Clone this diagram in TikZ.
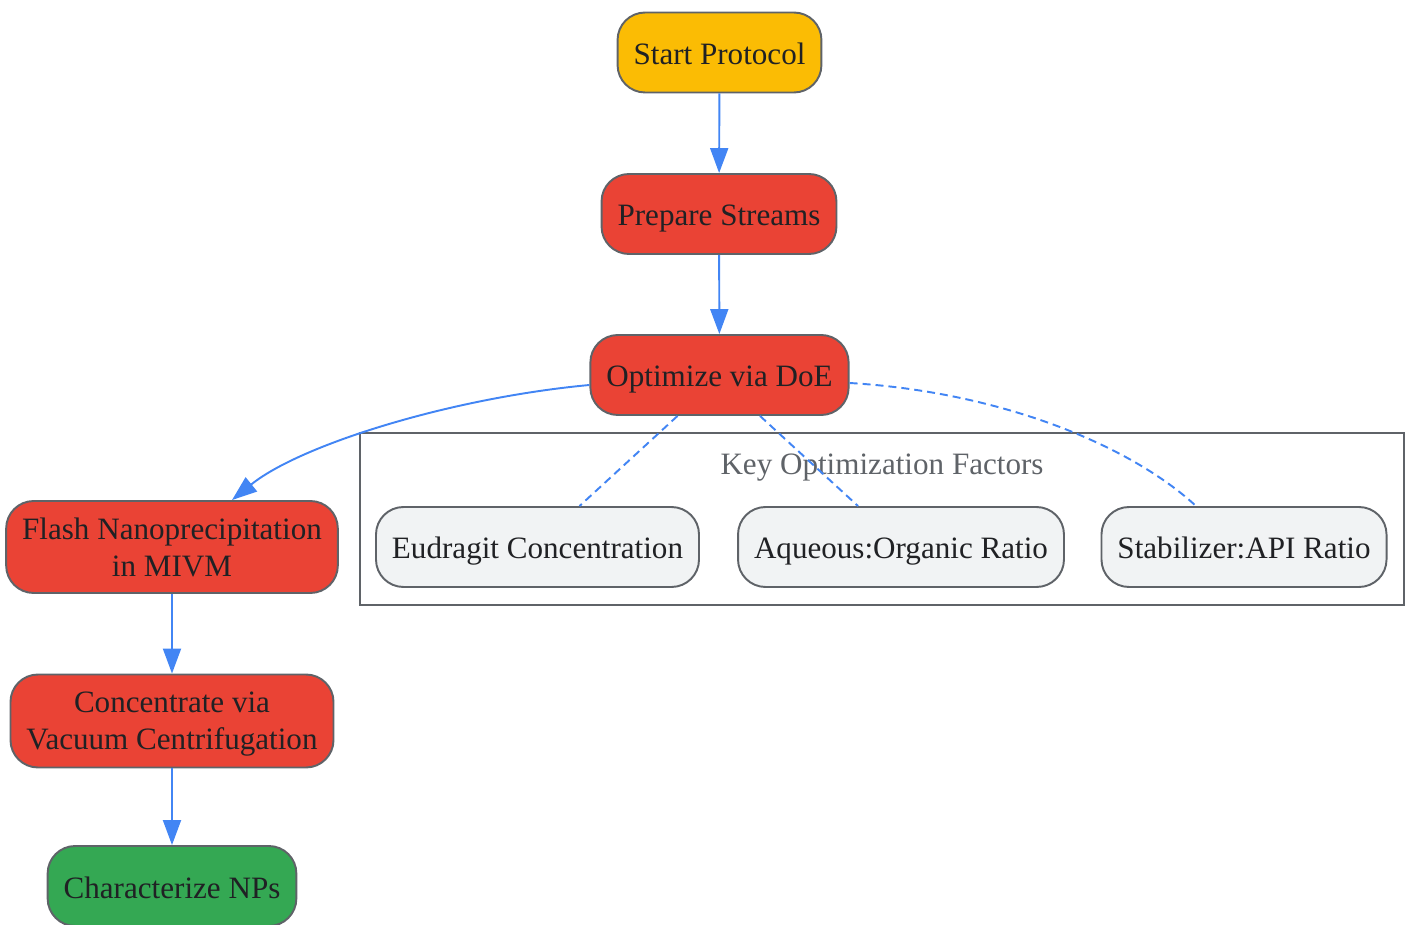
\documentclass[tikz,border=0pt]{standalone}
\usepackage{fontspec}
\setmainfont{Liberation Serif}
\usepackage{tikz}
\usetikzlibrary{calc, arrows.meta}
\definecolor{gyellow}{HTML}{FBBC04}
\definecolor{gred}{HTML}{EA4335}
\definecolor{ggreen}{HTML}{34A853}
\definecolor{gblue}{HTML}{4285F4}
\definecolor{ggrey}{HTML}{F1F3F4}
\definecolor{gborder}{HTML}{5F6368}
\definecolor{gtext}{HTML}{202124}
\tikzstyle{flowbox}    = [rectangle, rounded corners=0.55cm, draw=gborder, line width=1.1pt, text=gtext, align=center, inner xsep=0.32cm, minimum height=1.6cm, text height=0.62cm, text depth=0.14cm, font=\fontsize{17.7}{21}\selectfont]
\tikzstyle{twoline}    = [text height={}, text depth=0pt]
\tikzstyle{startbox}   = [flowbox, fill=gyellow]
\tikzstyle{procbox}    = [flowbox, fill=gred]
\tikzstyle{endbox}     = [flowbox, fill=ggreen]
\tikzstyle{factorbox}  = [flowbox, fill=ggrey]
\tikzstyle{clusterbox} = [rectangle, draw=gborder, line width=1.1pt, fill=white, minimum width=20.88cm, minimum height=3.44cm]
\tikzstyle{flowarrow}  = [draw=gblue, line width=1.1pt, -{Triangle[length=0.5cm,width=0.36cm]}]
\tikzstyle{factorlink} = [draw=gblue, line width=1.1pt, dash pattern=on 0.16cm off 0.1cm]

\begin{document}
\begin{tikzpicture}[x=0.02cm, y=-0.02cm]
  \useasboundingbox (0,0) rectangle (1409,925);
  % main column
  \node[startbox] (start) at (719.5,52.5) {Start Protocol};
  \node[procbox] (prep) at (719,214) {Prepare Streams};
  \node[procbox] (doe) at (719.5,375) {Optimize via DoE};
  % factor group
  \node[clusterbox] (factors) at (882,519) {};
  \node[text=gborder, text height=0.62cm, text depth=0.14cm, font=\fontsize{17.7}{21}\selectfont] (factorlabel) at (882,463) {Key Optimization Factors};
  \node[factorbox] (eud) at (537.5,547) {Eudragit Concentration};
  \node[factorbox] (aq) at (901,547) {Aqueous:Organic Ratio};
  \node[factorbox] (stab) at (1244,547) {Stabilizer:API Ratio};
  % left column
  \node[procbox, twoline, minimum height=1.84cm] (flash) at (172,547) {Flash Nanoprecipitation\\in MIVM};
  \node[procbox, twoline, minimum height=1.86cm] (conc) at (172,721) {Concentrate via\\Vacuum Centrifugation};
  \node[endbox] (char) at (172,886) {Characterize NPs};

  \draw[flowarrow] (start) -- (prep);
  \draw[flowarrow] (prep) -- (doe);
  \draw[flowarrow] ($(doe.west)+(0,10)$) .. controls (450,398) and (300,445) .. ($(flash.north)+(60,0)$);
  \draw[flowarrow] (flash) -- (conc);
  \draw[flowarrow] (conc) -- (char);

  \draw[factorlink] ($(doe.south)+(-42,0)$) -- ($(eud.north)+(42,0)$);
  \draw[factorlink] ($(doe.south)+(40.5,0)$) -- ($(aq.north)+(-43,0)$);
  \draw[factorlink] ($(doe.east)+(0,8)$) .. controls (1000,392) and (1130,445) .. ($(stab.north)+(-48,0)$);
\end{tikzpicture}
\end{document}
